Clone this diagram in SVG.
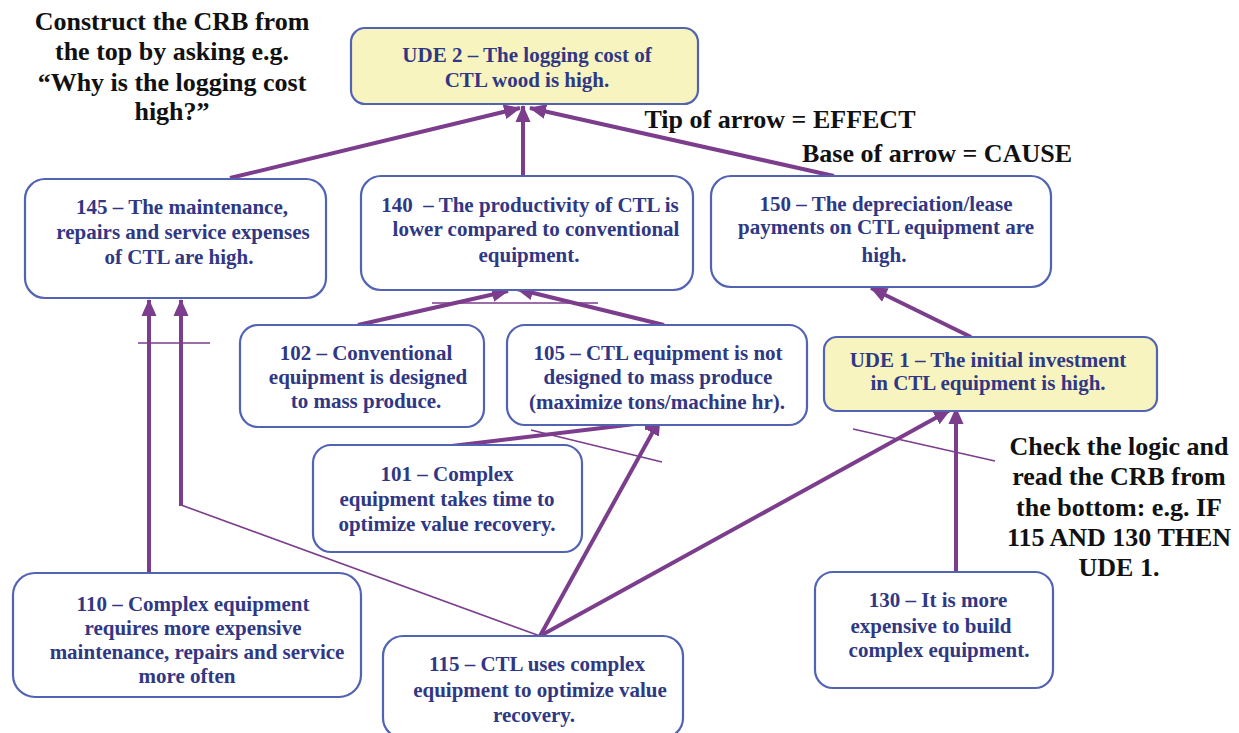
<svg xmlns="http://www.w3.org/2000/svg" width="1239" height="733" viewBox="0 0 1239 733">
<defs>
<marker id="ah" markerUnits="userSpaceOnUse" markerWidth="17" markerHeight="17" refX="16" refY="8.5" orient="auto">
<path d="M0,1 L17,8.5 L0,16 Z" fill="#7b3d8c"/>
</marker>
</defs>
<style>
.box{fill:#ffffff;stroke:#5363b3;stroke-width:2.2}
.ude{fill:#f8f4bf;stroke:#5363b3;stroke-width:2.2}
.t{font-weight:bold;font-size:21px;fill:#303884;text-anchor:middle}
.a{font-weight:bold;font-size:26px;fill:#111111;text-anchor:middle}
.c{stroke:#7b3d8c;stroke-width:4;fill:none;marker-end:url(#ah)}
.thin{stroke:#7b3d8c;stroke-width:1.6;fill:none}
</style>
<rect width="1239" height="733" fill="#ffffff"/>

<g id="annotations" font-family="'Liberation Serif', 'Times New Roman', serif">
<text class="a" x="172" y="30">Construct the CRB from</text>
<text class="a" x="172" y="60">the top by asking e.g.</text>
<text class="a" x="172" y="91">“Why is the logging cost</text>
<text class="a" x="172" y="120">high?”</text>
<text class="a" x="780" y="128">Tip of arrow = EFFECT</text>
<text class="a" x="937" y="162">Base of arrow = CAUSE</text>
<text class="a" x="1119" y="455">Check the logic and</text>
<text class="a" x="1119" y="485">read the CRB from</text>
<text class="a" x="1119" y="516">the bottom: e.g. IF</text>
<text class="a" x="1119" y="546">115 AND 130 THEN</text>
<text class="a" x="1119" y="576">UDE 1.</text>
</g>

<g id="connectors">
<line class="c" x1="230" y1="178" x2="520" y2="108"/>
<line class="c" x1="523" y1="176" x2="523" y2="106"/>
<line class="c" x1="834" y1="176" x2="530" y2="108"/>
<line class="c" x1="358" y1="325" x2="508" y2="291"/>
<line class="c" x1="664" y1="325" x2="517" y2="289"/>
<line class="thin" x1="432" y1="303" x2="598" y2="303"/>
<line class="c" x1="435" y1="448" x2="660" y2="421"/>
<line class="c" x1="540" y1="636" x2="660" y2="419"/>
<line class="thin" x1="531" y1="430" x2="662" y2="462"/>
<line class="c" x1="149" y1="573" x2="149" y2="300"/>
<polyline class="thin" points="540,636 181,505"/>
<line class="c" x1="181" y1="506" x2="181" y2="300"/>
<line class="thin" x1="138" y1="343" x2="210" y2="343"/>
<line class="c" x1="540" y1="636" x2="950" y2="410"/>
<line class="c" x1="956" y1="572" x2="956" y2="408"/>
<line class="thin" x1="853" y1="429" x2="995" y2="461"/>
<line class="c" x1="971" y1="337" x2="871" y2="288"/>
</g>

<g id="nodes" font-family="'Liberation Serif', 'Times New Roman', serif">
<g id="ude2">
<rect class="ude" x="351" y="28" width="347" height="76" rx="14"/>
<text class="t" x="527" y="62">UDE 2 – The logging cost of</text>
<text class="t" x="527" y="87">CTL wood is high.</text>
</g>

<g id="n145">
<rect class="box" x="25" y="179" width="301" height="119" rx="20"/>
<text class="t" x="182" y="214">145 – The maintenance,</text>
<text class="t" x="183" y="239">repairs and service expenses</text>
<text class="t" x="179" y="264">of CTL are high.</text>
</g>

<g id="n140">
<rect class="box" x="361" y="176" width="332" height="114" rx="20"/>
<text class="t" x="530" y="212">140&#160; – The productivity of CTL is</text>
<text class="t" x="536" y="236">lower compared to conventional</text>
<text class="t" x="529" y="262">equipment.</text>
</g>

<g id="n150">
<rect class="box" x="711" y="176" width="340" height="111" rx="20"/>
<text class="t" x="886" y="211">150 – The depreciation/lease</text>
<text class="t" x="886" y="234">payments on CTL equipment are</text>
<text class="t" x="884" y="262">high.</text>
</g>

<g id="n102">
<rect class="box" x="240" y="325" width="244" height="102" rx="18"/>
<text class="t" x="366" y="360">102 – Conventional</text>
<text class="t" x="368" y="384">equipment is designed</text>
<text class="t" x="366" y="408">to mass produce.</text>
</g>

<g id="n105">
<rect class="box" x="507" y="325" width="300" height="100" rx="18"/>
<text class="t" x="658" y="360">105 – CTL equipment is not</text>
<text class="t" x="658" y="384">designed to mass produce</text>
<text class="t" x="657" y="409">(maximize tons/machine hr).</text>
</g>

<g id="ude1">
<rect class="ude" x="824" y="337" width="333" height="74" rx="13"/>
<text class="t" x="988" y="367">UDE 1 – The initial investment</text>
<text class="t" x="988" y="390">in CTL equipment is high.</text>
</g>

<g id="n101">
<rect class="box" x="313" y="445" width="269" height="107" rx="18"/>
<text class="t" x="447" y="481">101 – Complex</text>
<text class="t" x="447" y="506">equipment takes time to</text>
<text class="t" x="447" y="531">optimize value recovery.</text>
</g>

<g id="n110">
<rect class="box" x="13" y="573" width="348" height="124" rx="22"/>
<text class="t" x="193" y="611">110 – Complex equipment</text>
<text class="t" x="193" y="635">requires more expensive</text>
<text class="t" x="197" y="659">maintenance, repairs and service</text>
<text class="t" x="187" y="683">more often</text>
</g>

<g id="n115">
<rect class="box" x="383" y="636" width="300" height="102" rx="20"/>
<text class="t" x="537" y="671">115 – CTL uses complex</text>
<text class="t" x="540" y="697">equipment to optimize value</text>
<text class="t" x="534" y="722">recovery.</text>
</g>

<g id="n130">
<rect class="box" x="815" y="572" width="238" height="116" rx="18"/>
<text class="t" x="938" y="607">130 – It is more</text>
<text class="t" x="931" y="633">expensive to build</text>
<text class="t" x="939" y="657">complex equipment.</text>
</g>
</g>
</svg>
